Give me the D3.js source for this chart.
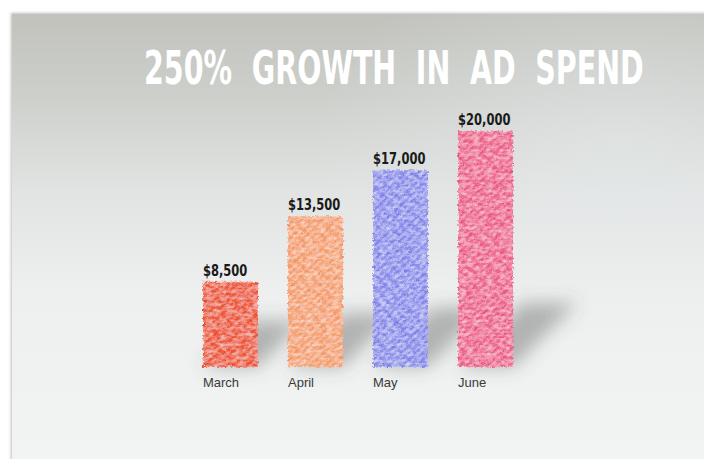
<!DOCTYPE html>
<html>
<head>
<meta charset="utf-8">
<script src="https://cdn.jsdelivr.net/npm/d3@7"></script>
<style>
  html, body { margin: 0; padding: 0; background: #ffffff; }
  svg { display: block; }
</style>
</head>
<body>
<svg id="chart" width="704" height="459"></svg>
<script>
// ---- data ----
const titleWords = ["250%", "GROWTH", "IN", "AD", "SPEND"];
const months = ["March", "April", "May", "June"];
const spend = [8500, 13500, 17000, 20000];
const valueLabels = ["$8,500", "$13,500", "$17,000", "$20,000"];
const baseColors = ["#ee5a3c", "#f5a274", "#8e90ec", "#ee6890"];
const lightColors = ["#fa9a7c", "#fdcaa8", "#c8c9fb", "#f9a6c0"];
const darkColors = ["#d7402a", "#e9824f", "#6366d8", "#dc3c6a"];

const W = 704, H = 459;
const svg = d3.select("#chart");
const defs = svg.append("defs");

// background gradient
const bg = defs.append("linearGradient").attr("id", "bg").attr("x1", 0).attr("y1", 0).attr("x2", 0).attr("y2", 1);
[[0, "#c1c2bc"], [0.18, "#cdcfcb"], [0.4, "#e2e4e3"], [0.62, "#eeefef"], [1, "#f2f3f3"]]
  .forEach(([o, c]) => bg.append("stop").attr("offset", o).attr("stop-color", c));
const hl = defs.append("radialGradient").attr("id", "hl").attr("cx", 0.88).attr("cy", 0.3).attr("r", 0.45);
hl.append("stop").attr("offset", 0).attr("stop-color", "#e6ebec").attr("stop-opacity", 0.5);
hl.append("stop").attr("offset", 1).attr("stop-color", "#e6ebec").attr("stop-opacity", 0);

const edge = defs.append("filter").attr("id", "edge").attr("x", -0.05).attr("y", -0.05).attr("width", 1.1).attr("height", 1.1);
edge.append("feGaussianBlur").attr("stdDeviation", 1.5);

// panel
svg.append("rect").attr("x", 11).attr("y", 13).attr("width", W).attr("height", H)
  .attr("fill", "#bdbdbd").attr("filter", "url(#edge)");
svg.append("rect").attr("x", 12).attr("y", 14).attr("width", W - 12).attr("height", H - 14).attr("fill", "url(#bg)");
svg.append("rect").attr("x", 12).attr("y", 14).attr("width", W - 12).attr("height", H - 14).attr("fill", "url(#hl)");

// scales
const x = d3.scaleBand().domain(months).range([188, 528]).paddingInner(0.353).paddingOuter(0.176);
const y = d3.scaleLinear().domain([2000, 20000]).range([367, 131]);
const base = y.range()[0];

// shadows
const sh = defs.append("filter").attr("id", "shadow").attr("x", -0.6).attr("y", -0.6).attr("width", 2.2).attr("height", 2.2);
sh.append("feGaussianBlur").attr("stdDeviation", 9);

svg.append("g").attr("filter", "url(#shadow)")
  .selectAll("path").data(spend).join("path")
  .attr("d", (d, i) => {
    const x0 = x(months[i]), x1 = x0 + x.bandwidth();
    const h = base - y(d);
    const dd = 0.12 * h + 36;
    return `M${x0},${base} L${x1},${base} L${x1 + dd},${base - dd} L${x0 + dd},${base - dd} Z`;
  })
  .attr("fill", "#555555").attr("opacity", 0.4);

// textures
const rough = defs.append("filter").attr("id", "rough").attr("x", -0.05).attr("y", -0.05).attr("width", 1.1).attr("height", 1.1);
rough.append("feTurbulence").attr("type", "fractalNoise").attr("baseFrequency", 0.45).attr("numOctaves", 2).attr("seed", 7).attr("result", "n");
rough.append("feDisplacementMap").attr("in", "SourceGraphic").attr("in2", "n").attr("scale", 5)
  .attr("xChannelSelector", "R").attr("yChannelSelector", "G").attr("result", "d");
rough.append("feTurbulence").attr("type", "fractalNoise").attr("baseFrequency", "0.15 0.3").attr("numOctaves", 2).attr("seed", 2).attr("result", "m");
rough.append("feColorMatrix").attr("in", "m").attr("type", "matrix")
  .attr("values", "0 0 0 0 1  0 0 0 0 1  0 0 0 0 1  0.9 0 0 0 -0.35").attr("result", "mw");
rough.append("feComposite").attr("in", "mw").attr("in2", "d").attr("operator", "in").attr("result", "mwc");
const mg = rough.append("feMerge");
mg.append("feMergeNode").attr("in", "d");
mg.append("feMergeNode").attr("in", "mwc");

spend.forEach((d, i) => {
  const p = defs.append("pattern").attr("id", "tex" + i).attr("patternUnits", "userSpaceOnUse")
    .attr("width", 9).attr("height", 5).attr("patternTransform", "rotate(-45)");
  p.append("rect").attr("width", 9).attr("height", 5).attr("fill", baseColors[i]);
  p.append("rect").attr("y", 0.3).attr("width", 6).attr("height", 1.4).attr("fill", lightColors[i]).attr("opacity", 0.85);
  p.append("rect").attr("x", 3).attr("y", 2.8).attr("width", 6).attr("height", 1.1).attr("fill", darkColors[i]).attr("opacity", 0.6);
});

svg.append("g").attr("filter", "url(#rough)")
  .selectAll("rect").data(spend).join("rect")
  .attr("x", (d, i) => x(months[i]))
  .attr("y", d => y(d))
  .attr("width", x.bandwidth())
  .attr("height", d => base - y(d))
  .attr("fill", (d, i) => `url(#tex${i})`);

// value labels (condensed horizontally)
svg.append("g").selectAll("text").data(spend).join("text")
  .attr("transform", (d, i) => `translate(${x(months[i])},${y(d) - 6}) scale(0.8,1)`)
  .attr("font-family", "'DejaVu Sans Condensed', sans-serif")
  .attr("font-weight", "bold")
  .attr("font-size", 16)
  .attr("fill", "#1a1a1a")
  .text((d, i) => valueLabels[i]);

// month labels
svg.append("g").selectAll("text").data(months).join("text")
  .attr("x", d => x(d))
  .attr("y", 387)
  .attr("font-family", "'Liberation Sans', Arial, sans-serif")
  .attr("font-size", 13)
  .attr("fill", "#3a3a3a")
  .text(d => d);

// title: condensed via horizontal scale
const tg = svg.append("g").attr("transform", "translate(144,84)");
const tt = tg.append("text")
  .attr("font-family", "'DejaVu Sans Condensed', sans-serif")
  .attr("font-weight", "bold")
  .attr("font-size", 46)
  .attr("fill", "#ffffff")
  .style("word-spacing", "14px")
  .text(titleWords.join(" "));
const natural = tt.node().getComputedTextLength();
tt.attr("transform", `scale(${500 / natural},1)`);
</script>
</body>
</html>
